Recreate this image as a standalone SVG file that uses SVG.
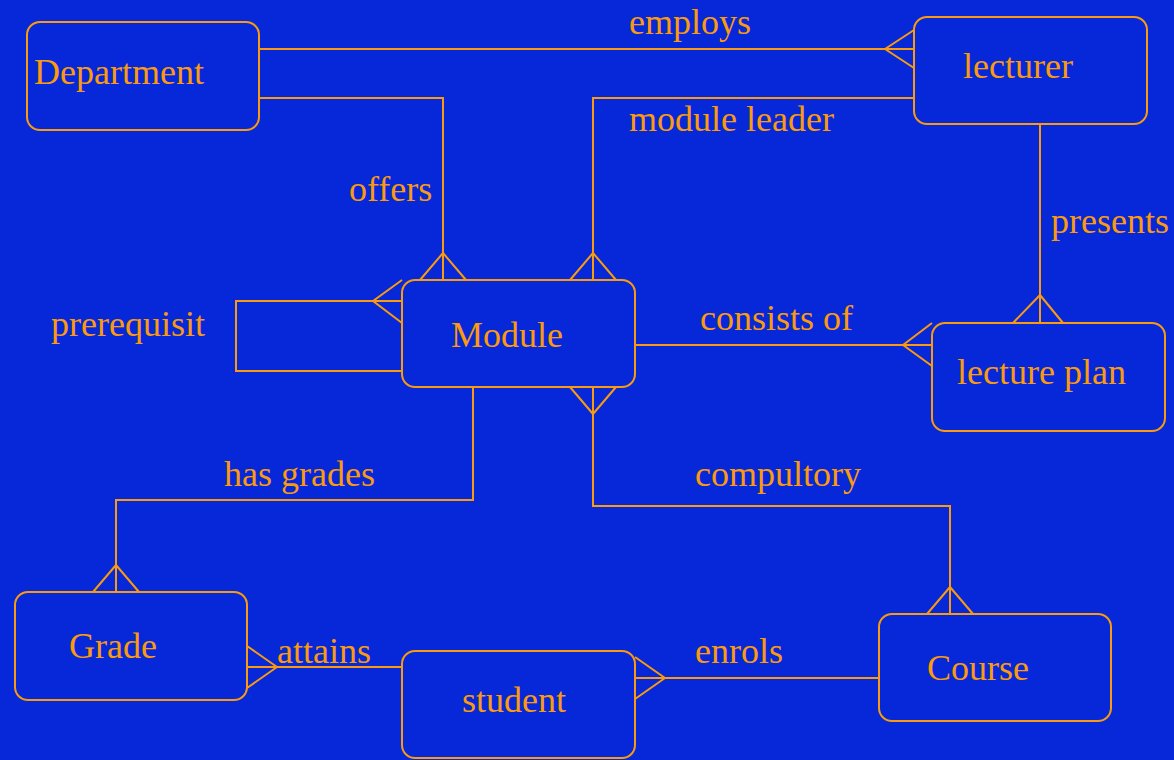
<svg xmlns="http://www.w3.org/2000/svg" width="1174" height="760" viewBox="0 0 1174 760">
<style>
.node{fill:none;stroke:#fa9a10;stroke-width:2}
.c{fill:none;stroke:#fa9a10;stroke-width:2}
text{font-family:"Liberation Serif","Times New Roman",serif;font-size:36px;fill:#fb9a0e}
</style>
<rect x="0" y="0" width="1174" height="760" fill="#0628d8"/>
<g id="connectors">
<path class="c" d="M259 49H914M885 49L914 30M885 49L914 68"/>
<path class="c" d="M914 98H593V280M593 253L570 280M593 253L616 280"/>
<path class="c" d="M259 98H443V280M443 253L420 280M443 253L466 280"/>
<path class="c" d="M402 301H236V371H402M373 301L402 280M373 301L402 323"/>
<path class="c" d="M635 345H932M903 345L932 323M903 345L932 366"/>
<path class="c" d="M1040 124V323M1040 295L1013 323M1040 295L1063 323"/>
<path class="c" d="M473 387V500H116V592M116 565L93 592M116 565L139 592"/>
<path class="c" d="M593 387V506H950V614M593 414L570 387M593 414L616 387M950 587L927 614M950 587L973 614"/>
<path class="c" d="M247 667H402M277 667L247 646M277 667L247 688"/>
<path class="c" d="M635 678H879M665 678L635 657M665 678L635 699"/>
</g>
<g id="department"><rect class="node" x="27" y="22" width="232" height="108" rx="13"/><text x="34" y="84">Department</text></g>
<g id="lecturer"><rect class="node" x="914" y="17" width="233" height="107" rx="13"/><text x="963" y="78">lecturer</text></g>
<g id="module"><rect class="node" x="402" y="280" width="233" height="107" rx="13"/><text x="451" y="347">Module</text></g>
<g id="lectureplan"><rect class="node" x="932" y="323" width="233" height="108" rx="13"/><text x="957" y="384">lecture plan</text></g>
<g id="grade"><rect class="node" x="15" y="592" width="232" height="108" rx="13"/><text x="69" y="658">Grade</text></g>
<g id="student"><rect class="node" x="402" y="651" width="233" height="107" rx="13"/><text x="462" y="712">student</text></g>
<g id="course"><rect class="node" x="879" y="614" width="232" height="107" rx="13"/><text x="927" y="680">Course</text></g>
<g id="labels">
<text x="629" y="34">employs</text>
<text x="629" y="131">module leader</text>
<text x="349" y="201">offers</text>
<text x="1051" y="233">presents</text>
<text x="51" y="336">prerequisit</text>
<text x="700" y="330">consists of</text>
<text x="224" y="486">has grades</text>
<text x="695" y="486">compultory</text>
<text x="277" y="663">attains</text>
<text x="695" y="663">enrols</text>
</g>
</svg>
